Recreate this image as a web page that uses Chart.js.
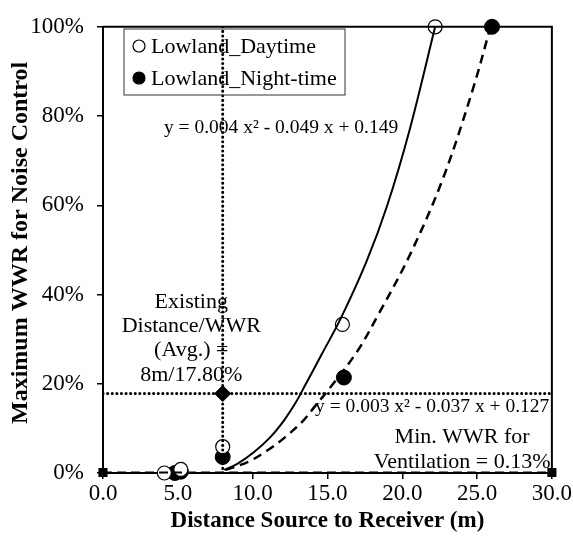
<!DOCTYPE html>
<html>
<head>
<meta charset="utf-8">
<script src="https://cdn.jsdelivr.net/npm/chart.js@4"></script>
<style>
body{margin:0;background:#fff;}
canvas{display:block;}
</style>
</head>
<body>
<canvas id="chart" width="573" height="547"></canvas>
<script>
// DATA (x in m, y in % WWR)

const dayX = [4.1, 5.2, 8.0, 16.0, 22.2];
const dayY = [0.0, 0.8, 5.9, 33.3, 100];

const nightX = [4.8, 5.2, 8.0, 16.1, 26.0];
const nightY = [0.0, 0.3, 3.6, 21.4, 100];

// trendlines
const dayFitX = [8.1, 9.0, 10.1, 11.2, 12.1, 12.9, 13.5, 14.6, 15.9, 17.6, 19.0, 20.5, 22.2];
const dayFitY = [0.7, 2.1, 4.7, 8.1, 11.8, 15.9, 19.6, 26.5, 34.7, 47.3, 60.0, 77.0, 100];

const nightFitX = [8.2, 9.7, 11.0, 12.2, 13.4, 14.2, 15.2, 17.0, 18.4, 20.5, 22.7, 24.7, 25.9];
const nightFitY = [0.7, 2.5, 5.1, 8.1, 11.8, 15.1, 19.2, 27.3, 35.5, 48.8, 65.8, 85.8, 100];

const existingX = [8];
const existingY = [17.8];
const existingVX = [8, 8];
const existingVY = [0, 100];
const existingHX = [0, 30];
const existingHY = [17.8, 17.8];

const minVentX = [0, 30];
const minVentY = [0.13, 0.13];

const xTicks = [0, 5, 10, 15, 20, 25, 30];
const yTicks = [0, 20, 40, 60, 80, 100];

const serif = "'Liberation Serif', 'Times New Roman', serif";

function pts(xs, ys){
  return xs.map((x,i)=>({x:x, y:ys[i]}));
}

// annotations + legend + frame
const extras = {
  id:"extras",
  afterDatasetsDraw(chart){
    const ctx = chart.ctx;
    const a = chart.chartArea;
    const xs = chart.scales.x, ys = chart.scales.y;

    ctx.save();
    ctx.strokeStyle = "#000";
    ctx.lineWidth = 2;
    ctx.beginPath();
    ctx.moveTo(a.left, a.top);
    ctx.lineTo(a.right, a.top);
    ctx.lineTo(a.right, a.bottom);
    ctx.stroke();

    ctx.fillStyle = "#000";
    ctx.textBaseline = "middle";
    ctx.textAlign = "center";

    // y axis title
    ctx.save();
    ctx.translate(21, (a.top + a.bottom)/2 - 7);
    ctx.rotate(-Math.PI/2);
    ctx.font = "bold 24px " + serif;
    ctx.fillText("Maximum WWR for Noise Control", 0, 0);
    ctx.restore();

    ctx.font = "19.5px " + serif;
    ctx.fillText("y = 0.004 x\u00b2 - 0.049 x + 0.149", xs.getPixelForValue(11.9), ys.getPixelForValue(77.3));
    ctx.fillText("y = 0.003 x\u00b2 - 0.037 x + 0.127", xs.getPixelForValue(22.0), ys.getPixelForValue(14.9));

    ctx.font = "22px " + serif;
    const ex = xs.getPixelForValue(5.9);
    ctx.fillText("Existing", ex, ys.getPixelForValue(38.2));
    ctx.fillText("Distance/WWR", ex, ys.getPixelForValue(33.0));
    ctx.fillText("(Avg.) =", ex, ys.getPixelForValue(27.5));
    ctx.fillText("8m/17.80%", ex, ys.getPixelForValue(22.0));

    const mx = xs.getPixelForValue(24.0);
    ctx.fillText("Min. WWR for", mx, ys.getPixelForValue(8.0));
    ctx.fillText("Ventilation = 0.13%", mx, ys.getPixelForValue(2.4));

    // legend box
    const lx = 124, ly = 29, lw = 221, lh = 66;
    ctx.lineWidth = 1;
    ctx.strokeStyle = "#333";
    ctx.strokeRect(lx, ly, lw, lh);
    ctx.textAlign = "left";
    ctx.font = "22px " + serif;
    const items = [
      {label:"Lowland_Daytime", fill:"#fff"},
      {label:"Lowland_Night-time", fill:"#000"}
    ];
    items.forEach((it,i)=>{
      const cy = ly + 17 + i*32;
      ctx.beginPath();
      ctx.arc(lx + 15, cy, 6, 0, Math.PI*2);
      ctx.fillStyle = it.fill;
      ctx.fill();
      ctx.lineWidth = 1.2;
      ctx.strokeStyle = "#000";
      ctx.stroke();
      ctx.fillStyle = "#000";
      ctx.fillText(it.label, lx + 27, cy + 1);
    });
    ctx.restore();
  }
};

new Chart(document.getElementById("chart"),{
  type:"scatter",
  data:{
    datasets:[
      {
        label:"existingV",
        data:pts(existingVX, existingVY),
        showLine:true,
        borderColor:"#000",
        borderWidth:3,
        borderDash:[0.1,4.5],
        borderCapStyle:"round",
        pointRadius:0
      },
      {
        label:"existingH",
        data:pts(existingHX, existingHY),
        showLine:true,
        borderColor:"#000",
        borderWidth:3,
        borderDash:[0.1,4.5],
        borderCapStyle:"round",
        pointRadius:0
      },
      {
        label:"Existing",
        data:pts(existingX, existingY),
        pointStyle:"rectRot",
        pointRadius:8,
        backgroundColor:"#000",
        borderColor:"#000"
      },
      {
        label:"Min. WWR",
        data:pts(minVentX, minVentY),
        showLine:true,
        borderColor:"#000",
        borderWidth:2,
        borderDash:[9,5],
        pointStyle:"rect",
        pointRadius:5,
        backgroundColor:"#000",
        clip:false
      },
      {
        label:"dayFit",
        data:pts(dayFitX, dayFitY),
        showLine:true,
        borderColor:"#000",
        borderWidth:2,
        tension:0.35,
        pointRadius:0
      },
      {
        label:"nightFit",
        data:pts(nightFitX, nightFitY),
        showLine:true,
        borderColor:"#000",
        borderWidth:2.5,
        borderDash:[9,6],
        tension:0.35,
        pointRadius:0
      },
      {
        label:"Lowland_Daytime",
        data:pts(dayX, dayY),
        pointRadius:7,
        pointBorderWidth:1.2,
        backgroundColor:"#fff",
        borderColor:"#000",
        clip:false
      },
      {
        label:"Lowland_Night-time",
        data:pts(nightX, nightY),
        pointRadius:7.5,
        backgroundColor:"#000",
        borderColor:"#000",
        clip:false
      }
    ]
  },
  options:{
    responsive:false,
    animation:false,
    layout:{padding:{top:22,right:19,left:0,bottom:0}},
    plugins:{legend:{display:false},tooltip:{enabled:false}},
    scales:{
      x:{
        type:"linear",
        min:0,max:30,
        afterFit(s){ s.height = 74; },
        afterBuildTicks(s){ s.ticks = xTicks.map(v=>({value:v})); },
        ticks:{
          color:"#000",
          font:{family:serif,size:23},
          padding:1,
          maxRotation:0,
          callback:v=>v.toFixed(1)
        },
        grid:{drawOnChartArea:false,tickLength:6,color:"#000",lineWidth:1.5},
        border:{color:"#000",width:2},
        title:{
          display:true,
          text:"Distance Source to Receiver (m)",
          color:"#000",
          font:{family:serif,size:23,weight:"bold"},
          padding:{top:0,bottom:12}
        }
      },
      y:{
        min:0,max:100,
        afterFit(s){ s.width = 103; },
        afterBuildTicks(s){ s.ticks = yTicks.map(v=>({value:v})); },
        ticks:{
          color:"#000",
          font:{family:serif,size:23},
          padding:13,
          callback:v=>v+"%"
        },
        grid:{drawOnChartArea:false,tickLength:6,color:"#000",lineWidth:1.5},
        border:{color:"#000",width:2}
      }
    }
  },
  plugins:[extras]
});
</script>
</body>
</html>
